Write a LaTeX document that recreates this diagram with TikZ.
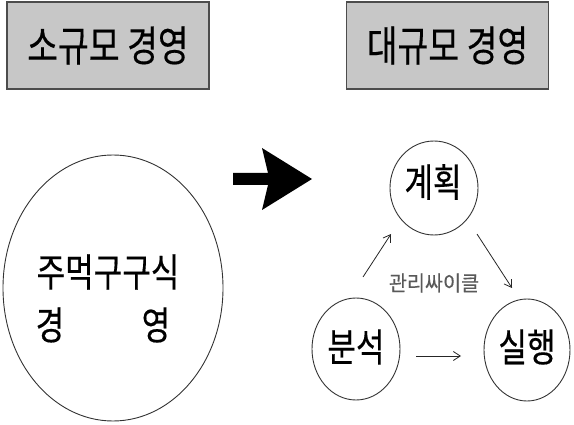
\documentclass[tikz,border=0pt]{standalone}
\usepackage{fontspec}
\setmainfont[FakeBold=0.4]{Noto Sans CJK KR}
\usetikzlibrary{arrows.meta}
\newcommand{\tall}[1]{\scalebox{0.97}[1.22]{#1}}
\begin{document}
\begin{tikzpicture}[x=1pt,y=-1pt,
  titlebox/.style={draw=black!70,line width=1.6pt,fill=black!22,minimum width=202pt,minimum height=87pt,inner sep=0pt,font=\fontsize{34.5}{36}\selectfont},
  bigtxt/.style={font=\fontsize{32}{34}\selectfont},
  thin/.style={-{Straight Barb[length=7pt,width=9pt]},line width=0.8pt,draw=black!85}
]
\useasboundingbox (0,0) rectangle (574,425);
\node[titlebox] (small) at (108,45.5) {\tall{소규모 경영}};
\node[titlebox] (large) at (447.5,45.5) {\tall{대규모 경영}};
% big ellipse
\draw[black!80,line width=0.9pt] (113,288) ellipse [x radius=110,y radius=133];
\node[bigtxt] (t1) at (108,272) {\tall{주먹구구식}};
\node[bigtxt] (t2) at (50,325) {\tall{경}};
\node[bigtxt] (t3) at (156,325) {\tall{영}};
% big arrow
\fill (233,173) -- (268,173) -- (262,148) -- (312,179) -- (262,210) -- (268,185) -- (233,185) -- cycle;
% circles
\draw[black!80,line width=0.9pt] (434,188) ellipse [x radius=44,y radius=47];
\draw[black!80,line width=0.9pt] (356,349) ellipse [x radius=44,y radius=51];
\draw[black!80,line width=0.9pt] (527,350) ellipse [x radius=43,y radius=51];
\node[bigtxt] (plan) at (433,182) {\tall{계획}};
\node[bigtxt] (anal) at (356,347) {\tall{분석}};
\node[bigtxt] (exec) at (527,347) {\tall{실행}};
\coordinate (a1) at (363,277); \coordinate (a2) at (391,234);
\coordinate (b1) at (477,234); \coordinate (b2) at (512,288);
\coordinate (c1) at (416,356); \coordinate (c2) at (461,356);
\draw[thin] (a1) -- (a2);
\draw[thin] (b1) -- (b2);
\draw[thin] (c1) -- (c2);
\node[font=\fontsize{20}{22}\selectfont,text=black!65] (cyc) at (434,283) {\scalebox{0.98}[1.05]{관리싸이클}};
\end{tikzpicture}
\end{document}
